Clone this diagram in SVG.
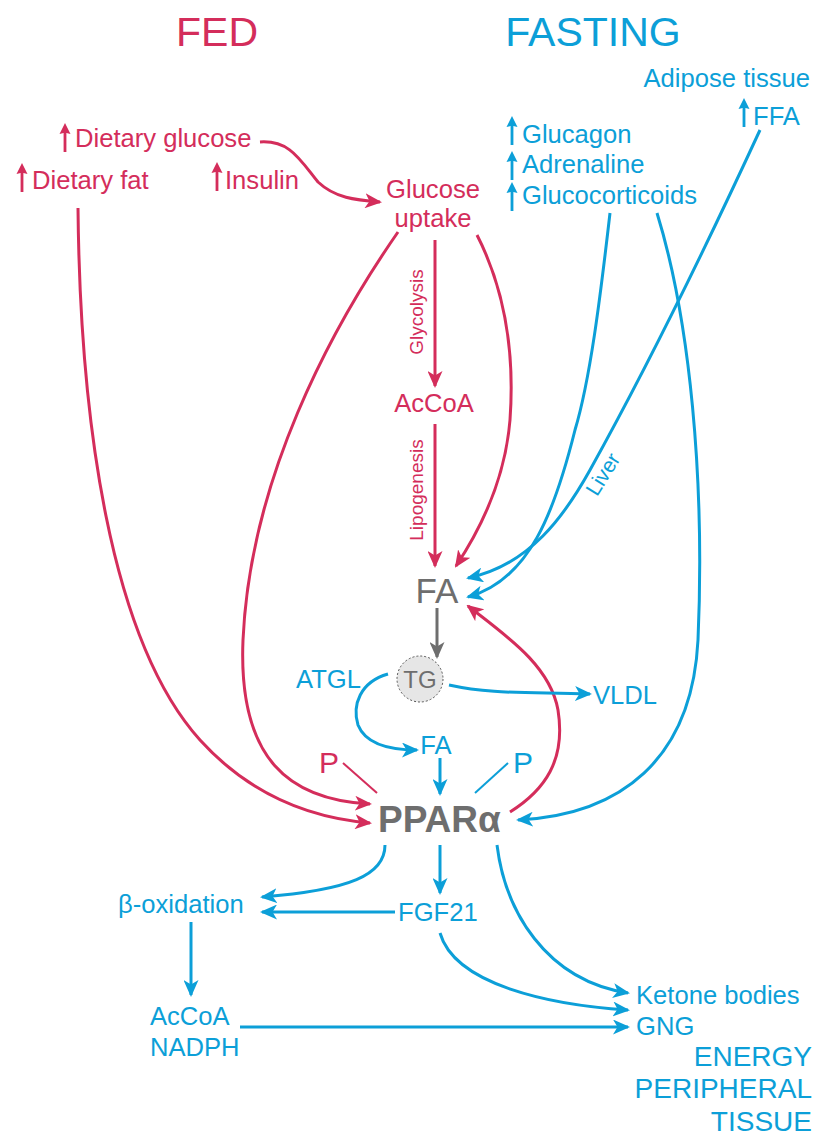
<svg xmlns="http://www.w3.org/2000/svg" width="815" height="1137" viewBox="0 0 815 1137">
<style>
text{font-family:"Liberation Sans",Arial,sans-serif;font-size:25.6px}
.r{fill:#d42d5b}.b{fill:#0c9fd8}.g{fill:#6e6e6e}
.cr{fill:none;stroke:#d42d5b;stroke-width:3}
.cb{fill:none;stroke:#0c9fd8;stroke-width:3}
.cg{fill:none;stroke:#6e6e6e;stroke-width:3}
.mr{marker-end:url(#ar)}.mb{marker-end:url(#ab)}.mg{marker-end:url(#ag)}
.title{font-size:41px}
.mid{text-anchor:middle}.end{text-anchor:end}
</style>
<defs>
<marker id="ar" markerUnits="userSpaceOnUse" markerWidth="17" markerHeight="15" refX="15" refY="7.5" orient="auto"><path d="M0,0 L17,7.5 L0,15 L4.5,7.5 z" fill="#d42d5b"/></marker>
<marker id="ab" markerUnits="userSpaceOnUse" markerWidth="17" markerHeight="15" refX="15" refY="7.5" orient="auto"><path d="M0,0 L17,7.5 L0,15 L4.5,7.5 z" fill="#0c9fd8"/></marker>
<marker id="ag" markerUnits="userSpaceOnUse" markerWidth="17" markerHeight="15" refX="15" refY="7.5" orient="auto"><path d="M0,0 L17,7.5 L0,15 L4.5,7.5 z" fill="#6e6e6e"/></marker>
<path id="up" d="M-1.4,0 L-1.4,-19 L-5.5,-18 L0,-29 L5.5,-18 L1.4,-19 L1.4,0 z"/>
</defs>

<g id="titles">
<text class="r title mid" x="217" y="46">FED</text>
<text class="b title mid" x="593" y="46">FASTING</text>
</g>

<g id="connectors">
<path class="cr mr" d="M260,142 C290,140 300,160 318,182 C335,198 355,200 380,202"/>
<path class="cr mr" d="M78,208 C80,420 110,640 200,740 C250,795 310,818 370,823"/>
<path class="cr mr" d="M398,232 C330,330 250,480 243,640 C238,760 290,800 370,804"/>
<path class="cr mr" d="M435,240 L435,386"/>
<path class="cr mr" d="M435,424 L435,566"/>
<path class="cr mr" d="M477,235 C505,290 515,350 510,420 C505,480 480,530 456,566"/>
<path class="cr mr" d="M510,812 C545,790 566,760 558,710 C550,665 505,635 468,606"/>
<path class="cg mg" d="M437,608 L437,657"/>
<path class="cb mb" d="M760,130 C700,260 640,380 590,470 C565,515 530,565 468,578"/>
<path class="cb mb" d="M610,213 C600,300 590,380 575,430 C555,510 530,580 468,597"/>
<path class="cb mb" d="M657,213 C690,320 705,480 698,640 C692,760 620,815 518,820"/>
<path class="cb mb" d="M449,685 C490,694 520,692 590,694"/>
<path class="cb mb" d="M388,674 C360,682 352,705 358,725 C366,745 390,750 417,750"/>
<path class="cb mb" d="M440,758 L440,794"/>
<path fill="none" stroke="#d42d5b" stroke-width="2" d="M343,763 L377,793"/>
<path fill="none" stroke="#0c9fd8" stroke-width="2" d="M508,763 L475,793"/>
<path class="cb mb" d="M385,845 C385,875 350,890 262,897"/>
<path class="cb mb" d="M440,845 L440,893"/>
<path class="cb mb" d="M395,912 L262,912"/>
<path class="cb mb" d="M191,922 L191,995"/>
<path class="cb mb" d="M240,1027 L628,1027"/>
<path class="cb mb" d="M440,933 C455,985 550,1005 628,1010"/>
<path class="cb mb" d="M497,845 C505,910 545,980 628,993"/>
</g>

<g id="n-dietary-glucose"><use href="#up" x="65" y="152" class="r"/><text class="r" x="75" y="147">Dietary glucose</text></g>
<g id="n-dietary-fat"><use href="#up" x="22" y="192" class="r"/><text class="r" x="32" y="189">Dietary fat</text></g>
<g id="n-insulin"><use href="#up" x="217" y="191" class="r"/><text class="r" x="225" y="189">Insulin</text></g>
<g id="n-glucose-uptake"><text class="r mid" x="433" y="198">Glucose</text><text class="r mid" x="433" y="227">uptake</text></g>
<g id="n-glycolysis"><text class="r mid" style="font-size:19px" transform="translate(423,312) rotate(-90)">Glycolysis</text></g>
<g id="n-acCoA-red"><text class="r mid" x="434" y="412">AcCoA</text></g>
<g id="n-lipogenesis"><text class="r mid" style="font-size:19px" transform="translate(423,490) rotate(-90)">Lipogenesis</text></g>

<g id="n-adipose"><text class="b end" x="810" y="87">Adipose tissue</text></g>
<g id="n-ffa"><use href="#up" x="744" y="127" class="b"/><text class="b" x="753" y="125">FFA</text></g>
<g id="n-glucagon"><use href="#up" x="512" y="145" class="b"/><text class="b" x="522" y="143">Glucagon</text></g>
<g id="n-adrenaline"><use href="#up" x="512" y="180" class="b"/><text class="b" x="522" y="173">Adrenaline</text></g>
<g id="n-glucocorticoids"><use href="#up" x="512" y="211" class="b"/><text class="b" x="522" y="204">Glucocorticoids</text></g>
<g id="n-liver"><text class="b mid" style="font-size:21px" transform="translate(609,478) rotate(-58)">Liver</text></g>

<g id="n-fa"><text class="g mid" style="font-size:35px" x="437" y="603">FA</text></g>
<g id="n-tg"><circle cx="420" cy="679" r="23" fill="#e6e6e6" stroke="#555" stroke-width="1" stroke-dasharray="2,2"/><text class="g mid" style="font-size:24px" x="420" y="688">TG</text></g>
<g id="n-atgl"><text class="b" x="296" y="688">ATGL</text></g>
<g id="n-vldl"><text class="b" x="593" y="704">VLDL</text></g>
<g id="n-fa-blue"><text class="b mid" x="436" y="754">FA</text></g>
<g id="n-p-red"><text class="r" style="font-size:30px" x="319" y="773">P</text></g>
<g id="n-p-blue"><text class="b" style="font-size:30px" x="513" y="773">P</text></g>
<g id="n-ppara"><text class="g" style="font-size:37px;font-weight:bold" x="378" y="832">PPARα</text></g>

<g id="n-beta-ox"><text class="b" x="118" y="913">β-oxidation</text></g>
<g id="n-fgf21"><text class="b" x="398" y="921">FGF21</text></g>
<g id="n-accoa-nadph"><text class="b" x="150" y="1025">AcCoA</text><text class="b" x="150" y="1056">NADPH</text></g>
<g id="n-ketone"><text class="b" x="636" y="1004">Ketone bodies</text></g>
<g id="n-gng"><text class="b" x="636" y="1035">GNG</text></g>
<g id="n-energy"><text class="b end" style="font-size:28px" x="812" y="1066">ENERGY</text><text class="b end" style="font-size:28px" x="812" y="1098">PERIPHERAL</text><text class="b end" style="font-size:28px" x="812" y="1131">TISSUE</text></g>
</svg>
